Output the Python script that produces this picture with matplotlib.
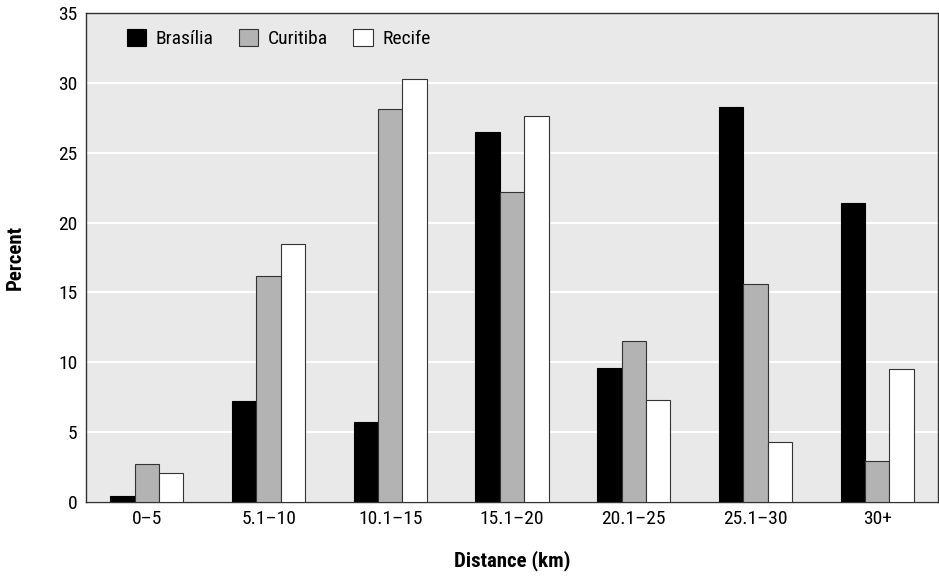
import matplotlib
matplotlib.use("Agg")
import matplotlib.pyplot as plt
from matplotlib import font_manager
import numpy as np

# pick a narrow face if one is installed
names = {f.name for f in font_manager.fontManager.ttflist}
font = "DejaVu Sans"
for cand in ["Roboto Condensed", "Liberation Sans Narrow", "Open Sans Condensed", "Noto Sans Display"]:
    if cand in names:
        font = cand
        break
plt.rcParams['font.family'] = [font, 'DejaVu Sans']
plt.rcParams['font.stretch'] = 'condensed'

categories = ["0\u20135", "5.1\u201310", "10.1\u201315", "15.1\u201320",
              "20.1\u201325", "25.1\u201330", "30+"]
brasilia = [0.4, 7.2, 5.7, 26.5, 9.6, 28.3, 21.4]
curitiba = [2.7, 16.2, 28.1, 22.2, 11.5, 15.6, 2.9]
recife = [2.1, 18.5, 30.3, 27.6, 7.3, 4.3, 9.5]

fig = plt.figure(figsize=(9.39, 5.78), dpi=100)
ax = fig.add_axes([86 / 939, 76 / 578, 852 / 939, 489 / 578])

x = np.arange(len(categories))
w = 0.2
ax.bar(x - w, brasilia, w, color="black", edgecolor="black", linewidth=0.8, label="Brasília", zorder=3)
ax.bar(x, curitiba, w, color="#b3b3b3", edgecolor="#333333", linewidth=0.8, label="Curitiba", zorder=3)
ax.bar(x + w, recife, w, color="white", edgecolor="#333333", linewidth=0.8, label="Recife", zorder=3)

ax.set_facecolor("#e9e9e9")
ax.set_xlim(-0.5, 6.5)
ax.set_ylim(0, 35)
ax.set_yticks(range(0, 36, 5))
ax.set_xticks(x)
ax.set_xticklabels(categories)
ax.yaxis.grid(True, color="white", linewidth=1.5, zorder=0)
ax.tick_params(length=0, labelsize=14, pad=6)
for s in ax.spines.values():
    s.set_color("#333333")
    s.set_linewidth(1.0)

ax.set_ylabel("Percent", fontsize=15, fontweight="bold", labelpad=24)
ax.set_xlabel("Distance (km)", fontsize=15, fontweight="bold", labelpad=16)

ax.legend(loc="upper left", ncol=3, frameon=False, fontsize=14,
          bbox_to_anchor=(0.027, 1.003), handlelength=1.0, handleheight=1.0,
          columnspacing=1.3, handletextpad=0.5)

fig.savefig("out.png", dpi=100)
